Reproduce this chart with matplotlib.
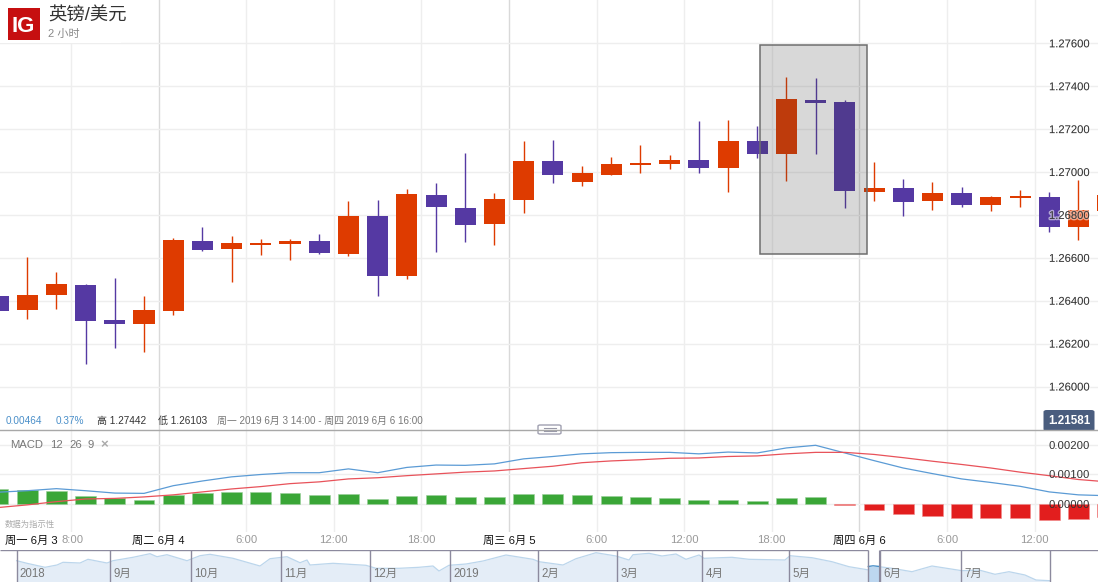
import matplotlib
matplotlib.use('Agg')
import matplotlib.pyplot as plt
import matplotlib.patheffects as pe
from matplotlib.patches import Rectangle, FancyBboxPatch
from matplotlib.lines import Line2D

plt.rcParams['font.family'] = ['Liberation Sans', 'Noto Sans CJK SC', 'DejaVu Sans']

W, H = 1098, 582

# GBP/USD 2h candles, one entry per bar
opens = [1.26422, 1.26357, 1.26427, 1.26473, 1.26310, 1.26291, 1.26352, 1.26678, 1.26641, 1.26660,
         1.26664, 1.26678, 1.26618, 1.26795, 1.26515, 1.26893, 1.26832, 1.26758, 1.26869, 1.27051,
         1.26953, 1.26986, 1.27033, 1.27037, 1.27056, 1.27019, 1.27145, 1.27084, 1.27336, 1.27326,
         1.26907, 1.26925, 1.26865, 1.26902, 1.26846, 1.26879, 1.26883, 1.26744, 1.26818]
closes = [1.26352, 1.26427, 1.26478, 1.26305, 1.26291, 1.26357, 1.26683, 1.26636, 1.26669, 1.26669,
          1.26678, 1.26622, 1.26795, 1.26515, 1.26897, 1.26837, 1.26753, 1.26874, 1.27051, 1.26986,
          1.26995, 1.27037, 1.27042, 1.27056, 1.27019, 1.27145, 1.27084, 1.27340, 1.27322, 1.26911,
          1.26925, 1.26860, 1.26902, 1.26846, 1.26883, 1.26888, 1.26744, 1.26823, 1.26893]
highs = [1.26422, 1.26604, 1.26534, 1.26478, 1.26506, 1.26422, 1.26692, 1.26744, 1.26702, 1.26688,
         1.26688, 1.26711, 1.26865, 1.26869, 1.26921, 1.26949, 1.27089, 1.26902, 1.27145, 1.27149,
         1.27028, 1.27070, 1.27126, 1.27079, 1.27238, 1.27242, 1.27215, 1.27443, 1.27438, 1.27336,
         1.27047, 1.26967, 1.26953, 1.26930, 1.26888, 1.26916, 1.26907, 1.26963, 1.26893]
lows = [1.26352, 1.26315, 1.26361, 1.26105, 1.26180, 1.26161, 1.26333, 1.26632, 1.26487, 1.26613,
        1.26590, 1.26618, 1.26608, 1.26422, 1.26501, 1.26627, 1.26674, 1.26660, 1.26809, 1.26949,
        1.26935, 1.26986, 1.26995, 1.27014, 1.26995, 1.26907, 1.27065, 1.26958, 1.27084, 1.26832,
        1.26865, 1.26795, 1.26823, 1.26837, 1.26818, 1.26837, 1.26720, 1.26683, 1.26818]

# MACD panel
macd_hist = [.00052, .00048, .00044, .00028, .00019, .00014, .00031, .00037, .00041, .00041,
             .00037, .00031, .00034, .00017, .00028, .00030, .00023, .00024, .00033, .00033,
             .00031, .00028, .00025, .00020, .00014, .00015, .00010, .00020, .00025, -.00003,
             -.00019, -.00035, -.00042, -.00049, -.00049, -.00048, -.00055, -.00052, -.00044]
macd_line = [.00040, .00045, .00052, .00045, .00037, .00036, .00062, .00078, .00092, .00100,
             .00106, .00106, .00119, .00106, .00124, .00132, .00131, .00136, .00153, .00161,
             .00170, .00174, .00175, .00175, .00170, .00176, .00173, .00190, .00199, .00173,
             .00147, .00122, .00103, .00085, .00073, .00060, .00041, .00031, .00028]
signal_line = [-.00012, -.00003, .00008, .00017, .00019, .00024, .00031, .00041, .00051, .00059,
               .00069, .00075, .00085, .00089, .00096, .00102, .00108, .00112, .00120, .00128,
               .00140, .00146, .00150, .00155, .00156, .00161, .00163, .00170, .00175, .00175,
               .00168, .00157, .00145, .00134, .00122, .00108, .00096, .00083, .00075]

price_ticks = [1.276, 1.274, 1.272, 1.270, 1.268, 1.266, 1.264, 1.262, 1.260]
macd_ticks = [0.002, 0.001, 0.0]

# time axis, in bars
hour_lines = [2.5, 8.5, 11.5, 14.5, 20.5, 23.5, 26.5, 32.5, 35.5]
day_lines = [5.5, 17.5, 29.5]
time_pos = [1.13, 2.57, 5.5, 8.5, 11.5, 14.5, 17.5, 20.5, 23.5, 26.5, 29.5, 32.5, 35.5]
time_labels = ['周一 6月 3', '8:00', '周二 6月 4', '6:00', '12:00', '18:00', '周三 6月 5',
               '6:00', '12:00', '18:00', '周四 6月 6', '6:00', '12:00']

# overview strip
nav_session = [16.7, 27, 45, 57, 63, 80, 88, 107, 113, 133, 150, 157, 167, 187, 200, 210, 233, 260,
               270, 287, 300, 307, 310, 333, 366, 376, 399, 419, 433, 439, 449, 466, 483, 506, 533,
               539, 563, 576, 596, 616, 629, 633, 649, 662, 676, 686, 699, 704, 732, 749, 785, 790,
               812, 832, 849, 869, 879, 892, 912, 932, 962, 979, 995, 1009, 1025, 1036, 1050]
nav_level = [21.3, 18.7, 14.7, 17, 19.7, 19, 22.7, 19, 21.3, 24.7, 28.3, 25.3, 27.3, 21.3, 26.3,
             27.7, 23.7, 16, 23.3, 25.3, 19.3, 22, 17, 18.7, 16.7, 13.7, 13.7, 14.7, 16, 11, 16.7,
             18, 21, 27, 22.7, 20.3, 17, 23.3, 29.3, 26, 22, 27.3, 28.7, 26, 28, 22.7, 27, 23.7,
             24.7, 22.7, 22, 26.3, 24.3, 20.3, 15.3, 12, 15.3, 13.7, 10.3, 16, 11.3, 12, 7.7, 10.3,
             7, 2, 1.3]
nav_dividers = [16.7, 110.3, 191.3, 281.3, 369.7, 450.3, 538.3, 617.3, 702.3, 789.3, 868.3, 880.3, 961.3, 1050.3]
nav_months = ['2018', '9月', '10月', '11月', '12月', '2019', '2月', '3月', '4月', '5月', '6月', '7月']
nav_month_pos = [16.7, 110.3, 191.3, 281.3, 369.7, 450.3, 538.3, 617.3, 702.3, 789.3, 880.3, 961.3]

UP, DOWN = '#de3b00', '#5539a3'
GRID, DAYGRID = '#eeeeee', '#d9d9d9'

fig = plt.figure(figsize=(W / 100, H / 100), dpi=100, facecolor='white')


def box(x0, y0, x1, y1):
    # pixel box (from top left) to figure fractions
    return [x0 / W, 1 - y1 / H, (x1 - x0) / W, (y1 - y0) / H]


def put(x, y, s, **kw):
    kw.setdefault('va', 'center')
    return fig.text(x / W, 1 - y / H, s, **kw)


ax = fig.add_axes(box(0, 0, W, 430))
mx = fig.add_axes(box(0, 430, W, 532), sharex=ax)
nav = fig.add_axes(box(0, 550, W, 582))

bars = list(range(len(opens)))

for a in (ax, mx):
    for s in a.spines.values():
        s.set_visible(False)
    a.set_axisbelow(False)
    a.yaxis.tick_right()
    # pad is in points: 49 px back from the right edge
    a.tick_params(axis='y', length=0, pad=-35.3, labelsize=8.1, labelcolor='#333333')
    for x in hour_lines:
        a.axvline(x, color=GRID, lw=1, zorder=1)
    for x in day_lines:
        a.axvline(x, color=DAYGRID, lw=1, zorder=1)

ax.set_xlim(0.0685, 37.67)
ax.set_ylim(1.278019 - 430 * 0.00004662, 1.278019)
ax.set_yticks(price_ticks)
ax.set_yticklabels(['%.5f' % p for p in price_ticks])
for p in price_ticks:
    ax.axhline(p, color=GRID, lw=1, zorder=1)
ax.tick_params(axis='x', bottom=False, labelbottom=False)
for t in ax.get_yticklabels():
    t.set_path_effects([pe.withStroke(linewidth=2, foreground='white', alpha=0.55)])

# title sits on a white block that hides the grid
ax.add_patch(Rectangle((0, 1 - 43 / 430), 0.11, 43 / 430, transform=ax.transAxes,
                       facecolor='white', edgecolor='none', zorder=1.2))

colors = [UP if c >= o else DOWN for o, c in zip(opens, closes)]
ax.vlines(bars, lows, highs, colors=colors, lw=1.0, zorder=2)
ax.bar(bars, [abs(c - o) for o, c in zip(opens, closes)], bottom=[min(o, c) for o, c in zip(opens, closes)],
       width=0.72, color=colors, linewidth=0, zorder=2)

# highlighted pattern
ax.add_patch(Rectangle((26.11, 1.26618), 3.65, 1.27592 - 1.26618, facecolor=(0.25, 0.25, 0.25, 0.2),
                       edgecolor='#6e6e6e', lw=1.1, zorder=2.2))

mx.set_ylim(-0.000949, 0.002508)
mx.set_yticks(macd_ticks)
mx.set_yticklabels(['%.5f' % v for v in macd_ticks])
for v in macd_ticks:
    mx.axhline(v, color=GRID, lw=1, zorder=1)
mx.bar(bars, macd_hist, width=0.71, color=['#3aa637' if v >= 0 else '#e21e1e' for v in macd_hist],
       edgecolor=['#9ad09a' if v >= 0 else '#f08a8a' for v in macd_hist], linewidth=0.4, zorder=2)
mx.plot(bars, macd_line, color='#5b9bd5', lw=0.9, zorder=2.2)
mx.plot(bars, signal_line, color='#e8525a', lw=0.9, zorder=2.2)
mx.set_xticks(time_pos)
mx.set_xticklabels(time_labels)
mx.tick_params(axis='x', length=0, pad=2.5, labelsize=8.1, labelbottom=True)
for t, s in zip(mx.get_xticklabels(), time_labels):
    t.set_color('#111111' if s.startswith('周') else '#999999')

# overview strip
nav.set_xlim(0, W)
nav.set_ylim(0, 32)
nav.axis('off')
nav.fill_between(nav_session, nav_level, 0, color='#e4edf7', lw=0)
nav.plot(nav_session, nav_level, color='#bcd6ec', lw=0.9)
nav.axvspan(868.3, 878.7, ymax=15.5 / 32, color='#bdd7f0', lw=0)
nav.plot([868.3, 873, 878.7], [15.5, 16.2, 15.6], color='#4a90c8', lw=1)
nav.vlines(nav_dividers, 0, 32, color='#8c8a9e', lw=1)
nav.vlines([878.7], 0, 32, color='#8c8a9e', lw=0.8)
nav.hlines(31.6, 0, 868.3, color='#8c8a9e', lw=1)
nav.hlines(31.6, 880.3, W, color='#8c8a9e', lw=1)
for x, s in zip(nav_month_pos, nav_months):
    nav.text(x + 3, 8, s, fontsize=8.3, color='#777777', va='center', ha='left')

# separator above the MACD panel and its drag handle
fig.add_artist(Line2D([0, 1], [1 - 430 / H, 1 - 430 / H], color='#a8a8a8', lw=1))
fig.add_artist(FancyBboxPatch((538 / W, 1 - 434 / H), 23 / W, 9 / H, boxstyle='round,pad=0,rounding_size=0.002',
                              transform=fig.transFigure, facecolor='white', edgecolor='#a0a0b0', lw=1))
for yy in (428.2, 431):
    fig.add_artist(Line2D([544 / W, 556 / W], [1 - yy / H, 1 - yy / H], color='#9a9aa8', lw=0.8))

# logo
fig.add_artist(Rectangle((8 / W, 1 - 40 / H), 32 / W, 32 / H, transform=fig.transFigure,
                         facecolor='#c60f10', edgecolor='none'))
put(23.5, 26.5, 'IG', color='white', fontsize=16, ha='center', fontweight='bold', family=['Liberation Sans'])

put(48, 16, '英镑/美元', fontsize=13.2, color='#333333')
put(48, 34, '2 小时', fontsize=8, color='#888888')

# summary row
put(5.5, 421, '0.00464', fontsize=7.2, color='#4a8fc9')
put(55.5, 421, '0.37%', fontsize=7.2, color='#4a8fc9')
put(97, 421, '高 1.27442', fontsize=7.2, color='#333333')
put(157.5, 421, '低 1.26103', fontsize=7.2, color='#333333')
put(217, 421, '周一 2019 6月 3 14:00 - 周四 2019 6月 6 16:00', fontsize=7.1, color='#777777')

# MACD caption
for x, s in zip([10, 50.5, 69.5, 88], ['MACD', '12', '26', '9']):
    put(x, 445, s, fontsize=8.1, color='#777777')
put(100.5, 445, '×', fontsize=9.5, color='#aaaaaa', fontweight='bold')
put(5, 525, '数据为指示性', fontsize=6, color='#aaaaaa')

# last price badge
fig.add_artist(FancyBboxPatch((1043.5 / W, 1 - 431 / H), 51 / W, 21 / H, boxstyle='round,pad=0,rounding_size=0.003',
                              transform=fig.transFigure, facecolor='#4a5d7e', edgecolor='none'))
put(1069, 421, '1.21581', fontsize=8.4, color='white', fontweight='bold', ha='center')

fig.savefig('out.png', dpi=100)
